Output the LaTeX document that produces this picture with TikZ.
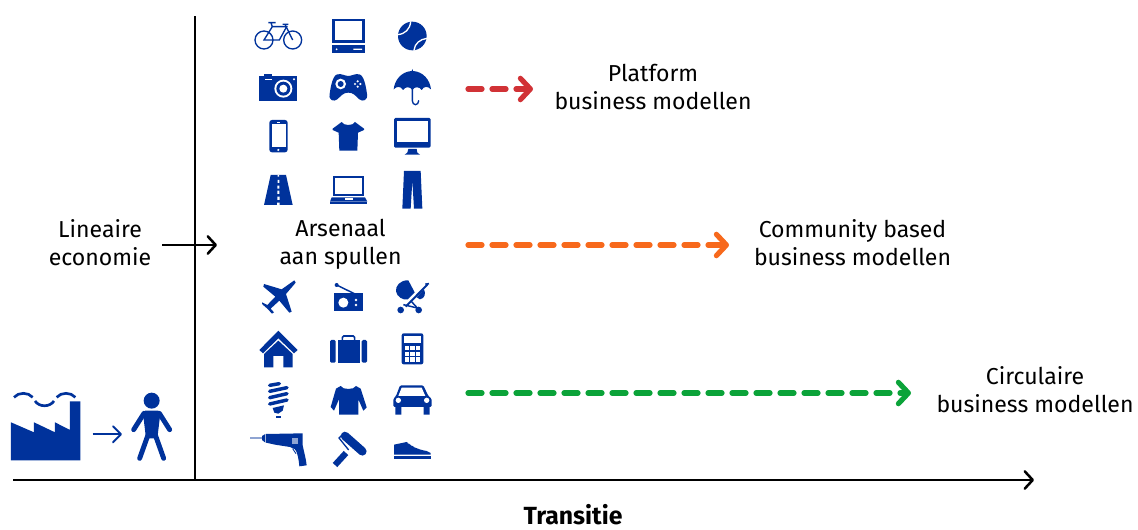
\documentclass[tikz,border=0pt]{standalone}
\usepackage{fontspec}
\setmainfont{Fira Sans}
\usetikzlibrary{arrows.meta}
\definecolor{iconblue}{HTML}{00329B}
\definecolor{dashred}{HTML}{D13236}
\definecolor{dashorange}{HTML}{F7691C}
\definecolor{dashgreen}{HTML}{0BA339}
\definecolor{drillgrey}{HTML}{8FA4D2}
\tikzset{
  x=0.75pt,y=-0.75pt,
  axisline/.style={black,line width=1.9pt,-{Straight Barb[length=6pt,width=13pt,round]}},
  plainaxis/.style={black,line width=1.9pt},
  flowarrow/.style={line width=3.9pt,line cap=round,dash pattern=on 10.5pt off 7.5pt,-{Straight Barb[length=7.5pt,width=16pt,round]}},
  lbl/.style={font=\fontsize{17.3pt}{21pt}\selectfont,align=center,inner sep=0pt,text=black},
  ic/.style={fill=iconblue,draw=none},
  icl/.style={draw=iconblue,fill=none},
  wh/.style={fill=white,draw=none},
  zoomgrid/.style={scale=1/3},
}
\begin{document}
\begin{tikzpicture}
\useasboundingbox (0,0) rectangle (1138,530);
% connector ends
\coordinate (yb) at (195,480);
\coordinate (yt) at (195,16);
\coordinate (xl) at (13,480);
\coordinate (xr) at (1034,480);
\coordinate (la) at (162,245);
\coordinate (lb) at (217,245);
\coordinate (ra) at (468,89);
\coordinate (rb) at (533,89);
\coordinate (oa) at (468,245);
\coordinate (ob) at (729,245);
\coordinate (ga) at (468,393);
\coordinate (gb) at (911,393);
\draw[plainaxis] (yb) -- (yt);
\draw[axisline] (xl) -- (xr);
\draw[axisline] (la) -- (lb);
\draw[flowarrow,dashred] (ra) -- (rb);
\draw[flowarrow,dashorange] (oa) -- (ob);
\draw[flowarrow,dashgreen] (ga) -- (gb);
% labels
\node[lbl] (lineair) at (100,243) {Lineaire\\economie};
\node[lbl] (arsenaal) at (340.5,244.5) {Arsenaal\\aan spullen};
\node[lbl] (platform) at (653,87) {Platform\\business modellen};
\node[lbl] (community) at (852.5,243) {Community based\\business modellen};
\node[lbl] (circulaire) at (1035,390) {Circulaire\\business modellen};
\node[lbl,font=\fontsize{18.6pt}{21pt}\selectfont\bfseries] (transitie) at (573,514.5) {Transitie};
% ---- row group 1
\begin{scope}[shift={(240,10)},zoomgrid]
 % bike
 \begin{scope}[icl,line width=1pt]
  \draw (72,90) circle (27);
  \draw (158,90) circle (27);
  \draw (72,90) -- (97,50) -- (140,50) -- (118,90) -- cycle;
  \draw (97,50) -- (93,38) (85,38) -- (107,38);
  \draw (158,90) -- (135,43) -- (145,43) (128,43) -- (135,43);
 \end{scope}
 % computer
 \draw[icl,line width=1.8pt] (280,30) rectangle (371,95);
 \fill[ic] (277,106) rectangle (374,130);
 \fill[wh] (290,118) circle (3) (340,116) rectangle (366,120);
 % ball
 \fill[ic] (517,78) circle (43);
 \draw[white,line width=1pt] (473,74) .. controls (495,72) and (510,58) .. (512,35);
 \draw[white,line width=1pt] (522,121) .. controls (524,100) and (540,88) .. (561,85);
 % camera
 \fill[ic] (58,198) rectangle (172,272);
 \fill[ic] (72,192) rectangle (96,200);
 \fill[wh] (76,207) rectangle (96,210);
 \fill[wh] (162,208) circle (3.5);
 \fill[wh] (130,236) circle (27);
 \fill[ic] (130,236) circle (21);
 \fill[wh] (130,236) circle (12);
 % gamepad
 \fill[ic] (292,193) .. controls (305,190) and (315,198) .. (325,198) .. controls (335,198) and (345,190) .. (358,193)
   .. controls (372,196) and (378,230) .. (381,252) .. controls (384,272) and (368,276) .. (358,268)
   .. controls (345,256) and (340,248) .. (325,248) .. controls (310,248) and (305,256) .. (292,268)
   .. controls (282,276) and (265,272) .. (269,252) .. controls (272,230) and (278,196) .. (292,193) -- cycle;
 \fill[wh] (302,222) circle (16);
 \fill[ic] (302,222) circle (9);
 \fill[wh] (353,214) circle (3.6) (353,230) circle (3.6) (345,222) circle (3.6) (361,222) circle (3.6);
 % umbrella
 \fill[ic] (517,177) -- (519,183) .. controls (550,185) and (570,210) .. (573,238)
   .. controls (563,228) and (552,228) .. (545,240) .. controls (538,230) and (525,228) .. (517,240)
   .. controls (509,228) and (496,230) .. (489,240) .. controls (482,228) and (471,228) .. (461,238)
   .. controls (464,210) and (484,185) .. (515,183) -- cycle;
 \draw[icl,line width=1pt,line cap=round] (517,235) -- (517,272) .. controls (517,288) and (536,288) .. (536,272);
\end{scope}
% ---- row group 2
\begin{scope}[shift={(240,110)},zoomgrid]
 % phone
 \fill[ic,rounded corners=2pt] (88,30) rectangle (143,127);
 \fill[wh] (95,42) rectangle (137,112);
 \fill[wh] (110,36) rectangle (120,39);
 \fill[wh] (115,120) circle (3.5);
 % shirt
 \fill[ic] (305,36) .. controls (310,48) and (340,48) .. (345,36) -- (372,56) -- (372,60) -- (354,68) -- (352,122) -- (298,122) -- (296,68) -- (278,60) -- (278,56) -- cycle;
 % monitor
 \fill[ic,rounded corners=1pt] (462,24) rectangle (572,113);
 \fill[wh] (470,32) rectangle (564,97);
 \fill[ic] (505,117) -- (530,117) -- (532,128) -- (540,134) -- (494,134) -- (502,128) -- cycle;
 % road
 \fill[ic] (92,195) -- (138,195) -- (158,285) -- (72,285) -- cycle;
 \fill[wh] (113,195) rectangle (117,200) (113,210) rectangle (118,219) (112,227) rectangle (118,236) (112,242) rectangle (118,252) (112,260) rectangle (119,270) (111,278) rectangle (119,285);
 % laptop
 \draw[icl,line width=1.3pt] (282,200) rectangle (368,256);
 \fill[ic] (275,262) -- (375,262) -- (382,275) -- (270,275) -- cycle;
 \fill[wh] (315,265) rectangle (338,270);
 \fill[ic] (270,277) rectangle (380,281);
 % jeans
 \fill[ic] (492,183) -- (542,183) -- (547,296) -- (522,296) -- (517,212) -- (512,296) -- (487,296) -- cycle;
\end{scope}
% ---- row group 3
\begin{scope}[shift={(240,270)},zoomgrid]
 % plane
 \fill[ic] (163,31) -- (167,38) -- (138,72) -- (155,125) -- (148,128) -- (118,92) -- (92,116) -- (102,127) -- (96,131) -- (82,116) -- (67,103) -- (66,97) -- (82,105) -- (106,80) -- (70,50) -- (72,42) -- (125,58) -- cycle;
 % radio
 \fill[ic] (283,70) rectangle (368,122);
 \draw[icl,line width=1.1pt] (290,45) -- (345,72);
 \fill[ic] (290,45) circle (6);
 \fill[wh] (310,98) circle (15);
 \fill[wh] (348,90) circle (4) (348,105) circle (4);
 % stroller
 \fill[ic] (505,31) .. controls (480,30) and (466,48) .. (468,64) .. controls (470,80) and (490,92) .. (503,88) -- (524,67) -- cycle;
 \fill[ic] (530,82) -- (552,58) .. controls (558,70) and (555,85) .. (540,88) -- cycle;
 \draw[icl,line width=1.5pt] (497,110) -- (562,44);
 \draw[icl,line width=1.3pt] (556,43) -- (567,41);
 \draw[icl,line width=1.1pt] (490,104) -- (532,114);
 \draw[icl,line width=1.1pt] (512,92) -- (532,114);
 \fill[ic] (482,120) circle (10) (536,120) circle (10);
 % house
 \fill[ic] (58,240) -- (115,182) -- (173,240) -- (162,250) -- (115,205) -- (69,250) -- cycle;
 \fill[ic] (72,252) -- (115,212) -- (158,252) -- (158,292) -- (130,292) -- (130,258) -- (100,258) -- (100,292) -- (72,292) -- cycle;
 % suitcase
 \fill[ic] (293,210) rectangle (360,278);
 \fill[ic,rounded corners=1pt] (270,210) rectangle (287,278);
 \fill[ic,rounded corners=1pt] (365,210) rectangle (381,278);
 \draw[icl,line width=1.2pt,rounded corners=1pt] (307,210) -- (307,198) -- (344,198) -- (344,210);
 % calculator
 \fill[ic,rounded corners=1.5pt] (485,190) rectangle (550,283);
 \fill[wh] (493,199) rectangle (542,218);
 \foreach \cx in {495,511,527} \foreach \cy in {228,245,262} \fill[wh] (\cx,\cy) rectangle +(13,13);
\end{scope}
% ---- row group 4
\begin{scope}[shift={(240,372)},zoomgrid]
 % bulb
 \begin{scope}[icl,line width=2.6pt,line cap=round]
  \draw (89,40) -- (118,35);
  \draw (89,58) -- (141,47);
  \draw (89,77) -- (141,65);
  \draw (89,96) -- (141,84);
 \end{scope}
 \fill[ic] (98,108) -- (132,100) -- (128,116) -- (115,125) -- (103,122) -- cycle;
 \fill[ic] (107,132) rectangle (124,137);
 % sweater
 \fill[ic] (302,42) .. controls (308,54) and (342,54) .. (348,42) -- (362,50) -- (380,106) -- (370,116) -- (355,82) -- (355,128) -- (297,128) -- (297,82) -- (282,116) -- (272,105) -- (288,50) -- cycle;
 % car
 \fill[ic,rounded corners=1pt] (480,40) -- (550,40) -- (565,72) -- (575,80) -- (575,105) -- (460,105) -- (460,80) -- (468,72) -- cycle;
 \fill[wh] (485,47) -- (545,47) -- (556,72) -- (475,72) -- cycle;
 \fill[wh] (475,85) circle (8) (560,85) circle (8);
 \fill[ic] (466,105) rectangle (484,128) (551,105) rectangle (569,128);
 % drill
 \fill[drillgrey] (30,196) rectangle (66,200);
 \fill[ic] (66,192) -- (76,186) -- (76,212) -- (66,204) -- cycle;
 \fill[ic] (78,186) -- (188,184) -- (188,220) .. controls (192,240) and (198,260) .. (200,280) -- (178,283) .. controls (176,260) and (172,240) .. (165,232) -- (150,225) -- (105,218) -- (78,212) -- cycle;
 \fill[drillgrey] (155,198) rectangle (175,215);
 \draw[icl,line width=0.6pt] (158,230) -- (168,245);
 % roller
 \draw[icl,line width=6.4pt,line cap=round] (315,192) -- (367,238);
 \draw[icl,line width=1pt] (312,184) -- (297,198) -- (326,234);
 \draw[icl,line width=4.6pt] (318,243) -- (285,279);
 % shoe
 \fill[ic] (462,218) -- (500,210) .. controls (515,222) and (530,232) .. (560,237) -- (572,243) -- (572,248) -- (462,248) -- cycle;
 \fill[ic] (462,252) rectangle (572,260);
 \fill[wh] (505,213) circle (1.8) (515,219) circle (1.8) (525,225) circle (1.8);
\end{scope}
% ---- factory, person
\begin{scope}[shift={(0,380)},zoomgrid]
 \fill[ic] (33,127) -- (102,157) -- (102,127) -- (165,157) -- (165,127) -- (210,150) -- (210,64) -- (241,64) -- (241,241) -- (33,241) -- cycle;
 \begin{scope}[icl,line width=2pt,line cap=butt]
  \draw (42,52) .. controls (55,36) and (85,36) .. (98,52);
  \draw (105,63) .. controls (118,82) and (149,82) .. (162,63);
  \draw (170,52) .. controls (183,36) and (213,36) .. (226,52);
 \end{scope}
 \coordinate (fa) at (278,163);
 \coordinate (fb) at (366,163);
 \draw[iconblue,line width=1.5pt,-{Straight Barb[length=6pt,width=12pt,round]}] (fa) -- (fb);
 \fill[ic] (455,62) circle (24);
 \fill[ic,rounded corners=2pt] (428,92) -- (482,92) -- (472,175) -- (438,175) -- cycle;
 \begin{scope}[icl,line width=3.7pt,line cap=round]
  \draw (432,100) -- (401,149);
  \draw (478,100) -- (509,149);
  \draw (444,165) -- (419,235);
  \draw (466,165) -- (491,235);
 \end{scope}
\end{scope}
\end{tikzpicture}
\end{document}
